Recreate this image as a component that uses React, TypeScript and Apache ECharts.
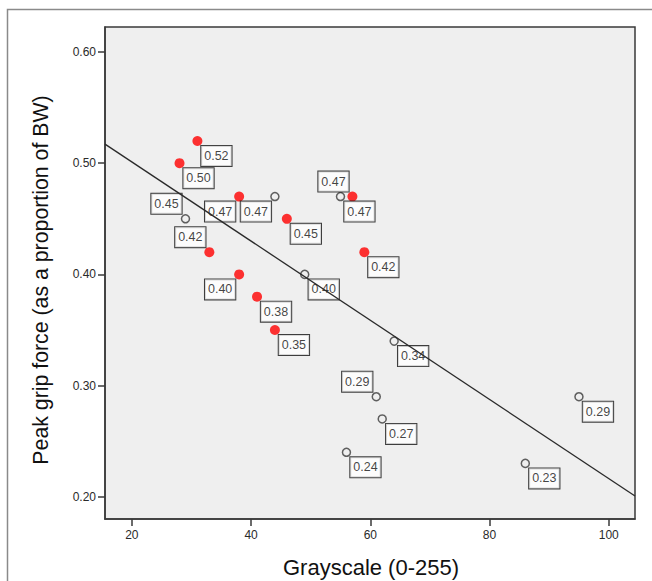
import React, { useEffect, useRef } from "react";
import * as echarts from "echarts";

// Red (filled) group
const redX = [31, 28, 38, 46, 57, 33, 38, 41, 44, 59];
const redY = [0.52, 0.5, 0.47, 0.45, 0.47, 0.42, 0.4, 0.38, 0.35, 0.42];
// Open-circle group
const openX = [29, 44, 55, 49, 64, 61, 62, 56, 95, 86];
const openY = [0.45, 0.47, 0.47, 0.4, 0.34, 0.29, 0.27, 0.24, 0.29, 0.23];

// Axis ticks
const xTicks = [20, 40, 60, 80, 100];
const yTicks = [0.2, 0.3, 0.4, 0.5, 0.6];
const xRange = [15.5, 104.4];
const yRange = [0.18, 0.6225];

// Label placement per point (compass side of the value box)
const redSides = ["se", "se", "sw", "se", "s", "nw", "sw", "se", "se", "se"];
const openSides = ["nw", "sw", "n", "se", "se", "nw", "se", "se", "se", "se"];

const X_TITLE = "Grayscale (0-255)";
const Y_TITLE = "Peak grip force (as a proportion of BW)";

const FONT = 'Arial, "Liberation Sans", Helvetica, sans-serif';

const sideOffset: Record<string, number[]> = {
  se: [19, 15],
  sw: [-19, 15],
  nw: [-19, -15],
  n: [-7, -15],
  s: [7, 15],
};

function fit(xs: number[], ys: number[]) {
  const n = xs.length;
  const mx = xs.reduce((a, b) => a + b, 0) / n;
  const my = ys.reduce((a, b) => a + b, 0) / n;
  let sxy = 0;
  let sxx = 0;
  for (let i = 0; i < n; i++) {
    sxy += (xs[i] - mx) * (ys[i] - my);
    sxx += (xs[i] - mx) * (xs[i] - mx);
  }
  const b = sxy / sxx;
  return { a: my - b * mx, b };
}

export default function App() {
  const ref = useRef<HTMLDivElement>(null);
  useEffect(() => {
    if (!ref.current) return;
    const chart = echarts.init(ref.current, undefined, { renderer: "svg" });
    const allX = [...redX, ...openX];
    const allY = [...redY, ...openY];
    const { a, b } = fit(allX, allY);
    const labelFor = (side: string) => ({
      show: true,
      position: "inside",
      offset: sideOffset[side],
      formatter: (p: any) => Number(p.value[1]).toFixed(2),
      backgroundColor: "#ffffff",
      borderColor: "#111111",
      borderWidth: 1,
      padding: [4, 3, 3, 3],
      fontSize: 12.5,
      fontFamily: FONT,
      color: "#111111",
    });
    const redData = redX.map((x, i) => ({
      value: [x, redY[i]],
      label: labelFor(redSides[i]),
    }));
    const openData = openX.map((x, i) => ({
      value: [x, openY[i]],
      label: labelFor(openSides[i]),
    }));
    chart.setOption({
      animation: false,
      backgroundColor: "#ffffff",
      grid: {
        left: 105,
        top: 27,
        right: 17,
        bottom: 62,
        show: true,
        backgroundColor: "#efefef",
        borderColor: "#3a3a3a",
        borderWidth: 1.5,
      },
      xAxis: {
        type: "value",
        min: xRange[0],
        max: xRange[1],
        splitLine: { show: false },
        axisLine: { show: true, lineStyle: { color: "#3a3a3a", width: 1.5 } },
        axisTick: {
          show: true,
          length: 7,
          customValues: xTicks,
          lineStyle: { color: "#3a3a3a", width: 1.5 },
        },
        axisLabel: {
          customValues: xTicks,
          fontSize: 12,
          fontFamily: FONT,
          color: "#2a2a2a",
          margin: 10,
        },
      },
      yAxis: {
        type: "value",
        min: yRange[0],
        max: yRange[1],
        splitLine: { show: false },
        axisLine: { show: true, lineStyle: { color: "#3a3a3a", width: 1.5 } },
        axisTick: {
          show: true,
          length: 7,
          customValues: yTicks,
          lineStyle: { color: "#3a3a3a", width: 1.5 },
        },
        axisLabel: {
          customValues: yTicks,
          fontSize: 12,
          fontFamily: FONT,
          color: "#2a2a2a",
          margin: 9,
          formatter: (v: number) => v.toFixed(2),
        },
      },
      graphic: [
        {
          type: "rect",
          shape: { x: 7.5, y: 9.5, width: 800, height: 800 },
          style: { fill: "none", stroke: "#8a8a8a", lineWidth: 1.5 },
          silent: true,
          z: 0,
        },
        {
          type: "text",
          x: 371,
          y: 567,
          style: {
            text: X_TITLE,
            fontSize: 22,
            fontFamily: FONT,
            fill: "#111111",
            align: "center",
            verticalAlign: "middle",
          },
        },
        {
          type: "text",
          x: 41,
          y: 280,
          rotation: Math.PI / 2,
          style: {
            text: Y_TITLE,
            fontSize: 21.3,
            fontFamily: FONT,
            fill: "#111111",
            align: "center",
            verticalAlign: "middle",
          },
        },
      ],
      series: [
        {
          type: "scatter",
          name: "open",
          z: 2,
          symbol: "circle",
          symbolSize: 8,
          itemStyle: {
            color: "rgba(0,0,0,0)",
            borderColor: "#3a3a3a",
            borderWidth: 1.5,
          },
          data: openData,
        },
        {
          type: "scatter",
          name: "red",
          z: 2,
          symbol: "circle",
          symbolSize: 10,
          itemStyle: { color: "#ff0000" },
          data: redData,
        },
        {
          type: "line",
          name: "fit",
          z: 6,
          symbol: "none",
          silent: true,
          lineStyle: { color: "#2a2a2a", width: 1.3 },
          data: [
            [xRange[0], a + b * xRange[0]],
            [xRange[1], a + b * xRange[1]],
          ],
        },
      ],
    });
    return () => chart.dispose();
  }, []);
  return (
    <div
      ref={ref}
      style={{ position: "fixed", left: 0, top: 0, width: 652, height: 581 }}
    />
  );
}
